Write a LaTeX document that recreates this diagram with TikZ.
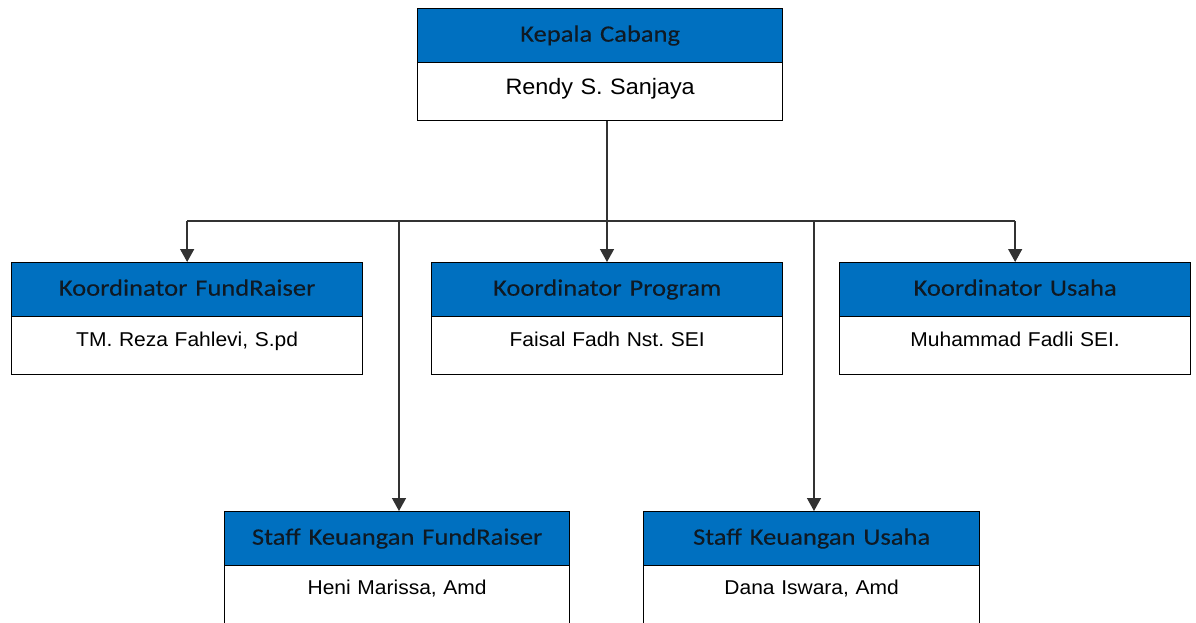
\documentclass[tikz,border=0pt]{standalone}
\usepackage{fontspec}
\usetikzlibrary{arrows.meta}
\newfontfamily\hdfont[FakeStretch=1.13,FakeBold=0.2]{Carlito}
\newfontfamily\nmfont[FakeStretch=1.05]{Liberation Sans}
\definecolor{hdblue}{RGB}{0,112,192}
\definecolor{linegray}{RGB}{50,50,50}
\definecolor{hdtext}{RGB}{15,25,35}
\frenchspacing
\begin{document}
\begin{tikzpicture}[x=1pt,y=-1pt,
  hd/.style={draw=black, line width=1.3pt, fill=hdblue, inner sep=0pt, anchor=north west,
    text height=33pt, text depth=21pt, text=hdtext, font=\hdfont\fontsize{23.5}{26}\selectfont},
  nm/.style={draw=black, line width=1.3pt, fill=white, inner sep=0pt, anchor=north west,
    text height=30pt, text depth=28pt, font=\nmfont\fontsize{20}{24}\selectfont},
  arr/.style={draw=linegray, line width=1.4pt, -{Triangle[width=14pt,length=13pt]}},
  ln/.style={draw=linegray, line width=1.4pt}]
\useasboundingbox (0,0) rectangle (1196,622);
\clip (0,0) rectangle (1196,622);
% top
\node[hd, text width=365pt, align=center] (kch) at (417,8) {Kepala Cabang};
\node[nm, text width=365pt, align=center, text height=32pt, text depth=26pt,
  font=\nmfont\fontsize{22.3}{24}\selectfont] (kcn) at (417,62) {Rendy S. Sanjaya};
% row 2
\node[hd, text width=351pt, align=center] (kfh) at (11,262) {Koordinator FundRaiser};
\node[nm, text width=351pt, align=center] (kfn) at (11,316) {TM. Reza Fahlevi, S.pd};
\node[hd, text width=351pt, align=center] (kph) at (431,262) {Koordinator Program};
\node[nm, text width=351pt, align=center] (kpn) at (431,316) {Faisal Fadh Nst. SEI};
\node[hd, text width=351pt, align=center] (kuh) at (839,262) {Koordinator Usaha};
\node[nm, text width=351pt, align=center] (kun) at (839,316) {Muhammad Fadli SEI.};
% row 3
\node[hd, text width=345pt, align=center] (sfh) at (224,511) {Staff Keuangan FundRaiser};
\node[nm, text width=345pt, align=center, text height=29pt, text depth=60pt] (sfn) at (224,565) {Heni Marissa, Amd};
\node[hd, text width=336pt, align=center] (suh) at (643,511) {Staff Keuangan Usaha};
\node[nm, text width=336pt, align=center, text height=29pt, text depth=60pt] (sun) at (643,565) {Dana Iswara, Amd};
% connectors
\coordinate (j) at (607,221);
\coordinate (jl) at (399,221);
\coordinate (jr) at (814,221);
\draw[arr] (kcn.south -| j) -- (kph.north -| j);
\draw[ln] (jl -| kfh.north) -- (jr -| kuh.north);
\draw[arr] (jl -| kfh.north) -- (kfh.north);
\draw[arr] (jr -| kuh.north) -- (kuh.north);
\draw[arr] (jl) -- (sfh.north -| jl);
\draw[arr] (jr) -- (suh.north -| jr);
\end{tikzpicture}
\end{document}
